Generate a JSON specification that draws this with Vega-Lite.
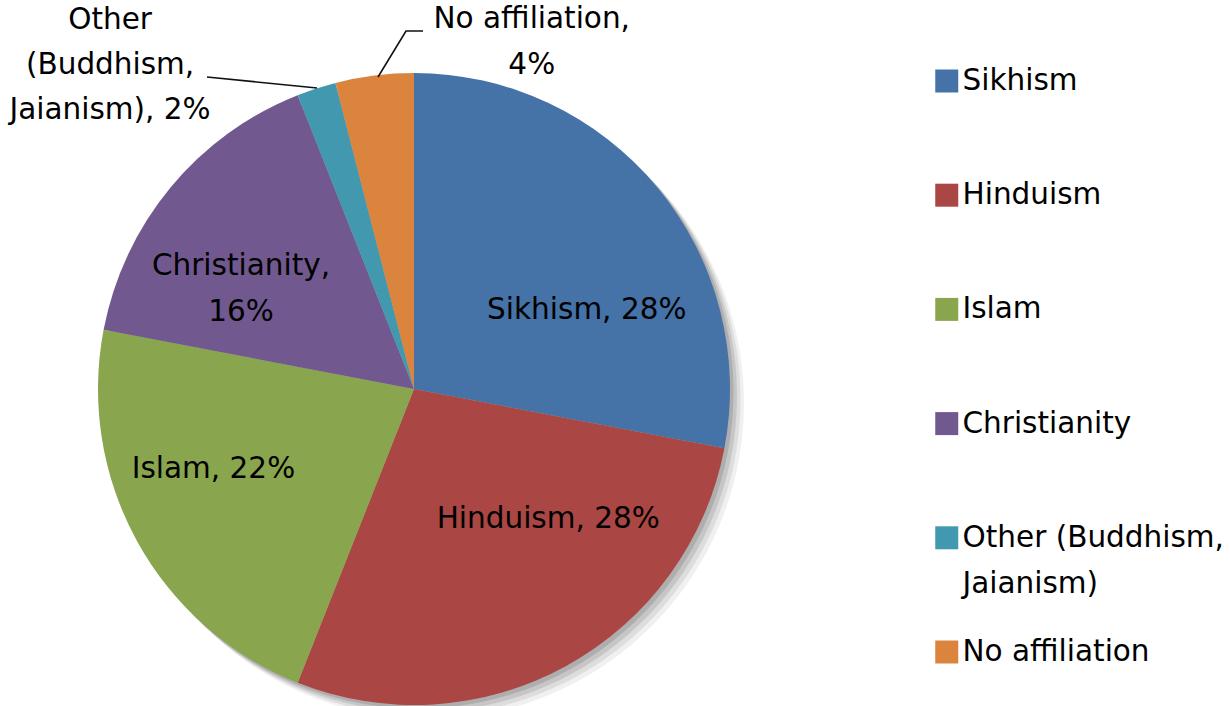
{
  "$schema": "https://vega.github.io/schema/vega-lite/v6.json",
  "width": 828,
  "height": 632,
  "autosize": {"type": "none"},
  "padding": {"left": 0, "top": 73, "right": 402, "bottom": 1},
  "background": "white",
  "config": {
    "view": {"stroke": null},
    "style": {"guide-label": {"lineHeight": 46}}
  },
  "data": {
    "values": [
      {"religion": "Sikhism", "share": 28, "label": "Sikhism, 28%"},
      {"religion": "Hinduism", "share": 28, "label": "Hinduism, 28%"},
      {"religion": "Islam", "share": 22, "label": "Islam, 22%"},
      {"religion": "Christianity", "share": 16, "label": "Christianity,\n16%"},
      {"religion": "Other (Buddhism, Jaianism)", "share": 2, "label": "Other\n(Buddhism,\nJaianism), 2%"},
      {"religion": "No affiliation", "share": 4, "label": "No affiliation,\n4%"}
    ]
  },
  "transform": [{"window": [{"op": "row_number", "as": "idx"}]}],
  "layer": [
    {
      "transform": [{"filter": "datum.religion === 'Sikhism'"}],
      "mark": {"type": "point", "shape": "M330,14A316,316 0 1,1 -302,14A316,316 0 1,1 330,14Z", "size": 4, "filled": true, "fill": "#000000", "strokeWidth": 0, "opacity": 0.06},
      "encoding": {}
    },
    {
      "transform": [{"filter": "datum.religion === 'Sikhism'"}],
      "mark": {"type": "point", "shape": "M326.5,10.5A316,316 0 1,1 -305.5,10.5A316,316 0 1,1 326.5,10.5Z", "size": 4, "filled": true, "fill": "#000000", "strokeWidth": 0, "opacity": 0.08},
      "encoding": {}
    },
    {
      "transform": [{"filter": "datum.religion === 'Sikhism'"}],
      "mark": {"type": "point", "shape": "M323,7A316,316 0 1,1 -309,7A316,316 0 1,1 323,7Z", "size": 4, "filled": true, "fill": "#000000", "strokeWidth": 0, "opacity": 0.1},
      "encoding": {}
    },
    {
      "transform": [{"filter": "datum.religion === 'Sikhism'"}],
      "mark": {"type": "point", "shape": "M319.5,3.5A316,316 0 1,1 -312.5,3.5A316,316 0 1,1 319.5,3.5Z", "size": 4, "filled": true, "fill": "#000000", "strokeWidth": 0, "opacity": 0.12},
      "encoding": {}
    },
    {
      "mark": {"type": "arc", "outerRadius": 316},
      "encoding": {
        "theta": {"field": "share", "type": "quantitative", "stack": true},
        "order": {"field": "idx", "type": "quantitative"},
        "color": {
          "field": "religion",
          "type": "nominal",
          "scale": {
            "domain": ["Sikhism", "Hinduism", "Islam", "Christianity", "Other (Buddhism, Jaianism)", "No affiliation"],
            "range": ["#4572A7", "#AA4643", "#89A54E", "#71588F", "#4198AF", "#DB843D"]
          },
          "legend": {
            "orient": "none",
            "legendX": 932,
            "legendY": -6.75,
            "title": null,
            "padding": 0,
            "symbolType": "square",
            "symbolSize": 529,
            "symbolStrokeWidth": 0,
            "symbolOpacity": 1,
            "labelFont": "DejaVu Sans",
            "labelFontSize": 29.5,
            "labelColor": "#000000",
            "labelOffset": 1,
            "labelLimit": 400,
            "rowPadding": 37.2,
            "labelExpr": "datum.label === 'Other (Buddhism, Jaianism)' ? ['Other (Buddhism,', 'Jaianism)'] : [datum.label, '']"
          }
        }
      }
    },
    {
      "transform": [{"filter": "datum.religion === 'Other (Buddhism, Jaianism)'"}],
      "mark": {"type": "point", "shape": "M-207,-312L-97,-301", "size": 4, "filled": false, "stroke": "#111111", "strokeWidth": 1.6, "opacity": 1},
      "encoding": {}
    },
    {
      "transform": [{"filter": "datum.religion === 'No affiliation'"}],
      "mark": {"type": "point", "shape": "M-36,-312L-8,-358L9,-358", "size": 4, "filled": false, "stroke": "#111111", "strokeWidth": 1.6, "opacity": 1},
      "encoding": {}
    },
    {
      "mark": {"type": "text", "radius": 184, "dx": 31, "dy": 38, "font": "DejaVu Sans", "fontSize": 29.5, "lineHeight": 46, "lineBreak": "\n", "color": "#000000", "align": "center", "baseline": "middle"},
      "encoding": {
        "theta": {"field": "share", "type": "quantitative", "stack": true},
        "order": {"field": "idx", "type": "quantitative"},
        "text": {"condition": {"test": "datum.religion === 'Sikhism'", "field": "label", "type": "nominal"}, "value": ""}
      }
    },
    {
      "mark": {"type": "text", "radius": 179, "dx": 48, "dy": -27, "font": "DejaVu Sans", "fontSize": 29.5, "lineHeight": 46, "lineBreak": "\n", "color": "#000000", "align": "center", "baseline": "middle"},
      "encoding": {
        "theta": {"field": "share", "type": "quantitative", "stack": true},
        "order": {"field": "idx", "type": "quantitative"},
        "text": {"condition": {"test": "datum.religion === 'Hinduism'", "field": "label", "type": "nominal"}, "value": ""}
      }
    },
    {
      "mark": {"type": "text", "radius": 214, "dx": -13, "dy": -23, "font": "DejaVu Sans", "fontSize": 29.5, "lineHeight": 46, "lineBreak": "\n", "color": "#000000", "align": "center", "baseline": "middle"},
      "encoding": {
        "theta": {"field": "share", "type": "quantitative", "stack": true},
        "order": {"field": "idx", "type": "quantitative"},
        "text": {"condition": {"test": "datum.religion === 'Islam'", "field": "label", "type": "nominal"}, "value": ""}
      }
    },
    {
      "mark": {"type": "text", "radius": 196, "dx": -22, "dy": 1.5, "font": "DejaVu Sans", "fontSize": 29.5, "lineHeight": 46, "lineBreak": "\n", "color": "#000000", "align": "center", "baseline": "middle"},
      "encoding": {
        "theta": {"field": "share", "type": "quantitative", "stack": true},
        "order": {"field": "idx", "type": "quantitative"},
        "text": {"condition": {"test": "datum.religion === 'Christianity'", "field": "label", "type": "nominal"}, "value": ""}
      }
    },
    {
      "mark": {"type": "text", "radius": 401, "dx": -180, "dy": 12, "font": "DejaVu Sans", "fontSize": 29.5, "lineHeight": 45, "lineBreak": "\n", "color": "#000000", "align": "center", "baseline": "middle"},
      "encoding": {
        "theta": {"field": "share", "type": "quantitative", "stack": true},
        "order": {"field": "idx", "type": "quantitative"},
        "text": {"condition": {"test": "datum.religion === 'Other (Buddhism, Jaianism)'", "field": "label", "type": "nominal"}, "value": ""}
      }
    },
    {
      "mark": {"type": "text", "radius": 329, "dx": 159, "dy": -44, "font": "DejaVu Sans", "fontSize": 29.5, "lineHeight": 46, "lineBreak": "\n", "color": "#000000", "align": "center", "baseline": "middle"},
      "encoding": {
        "theta": {"field": "share", "type": "quantitative", "stack": true},
        "order": {"field": "idx", "type": "quantitative"},
        "text": {"condition": {"test": "datum.religion === 'No affiliation'", "field": "label", "type": "nominal"}, "value": ""}
      }
    }
  ]
}
